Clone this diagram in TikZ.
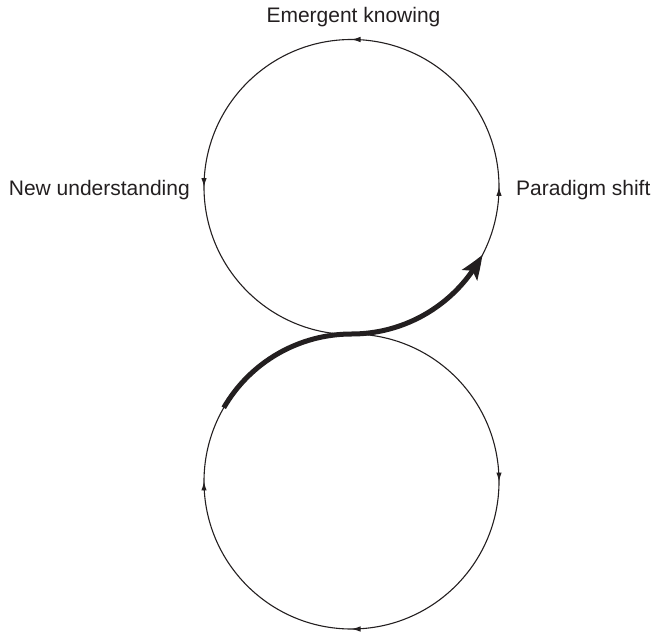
\documentclass[tikz,border=0pt]{standalone}
\usepackage{fontspec}
\setmainfont{Liberation Sans}
\usetikzlibrary{arrows.meta,bending,decorations.markings}
\definecolor{ink}{HTML}{231F20}
\tikzset{
  ring/.style={draw=ink, line width=1.1pt},
  smalltip/.tip={Latex[length=9pt,width=5.5pt]},
  bigarrow/.style={draw=ink, line width=5pt,
    -{Stealth[length=24pt,width=18pt,inset=5pt,bend]}},
  label/.style={inner sep=0pt, text=ink, font=\fontsize{21}{24}\selectfont},
  marks/.style={postaction=decorate, decoration={markings,
    mark=at position 0.25 with {\arrow[ink]{smalltip}},
    mark=at position 0.5 with {\arrow[ink]{smalltip}},
    mark=at position 0.75 with {\arrow[ink]{smalltip}}}}
}
\begin{document}
\begin{tikzpicture}[x=1pt,y=1pt]
\useasboundingbox (0,0) rectangle (653,633);
\def\R{147.5}
% centres of the two loops
\coordinate (T) at (351.5,446);
\coordinate (B) at (351.5,151.5);
% upper loop, counter-clockwise
\draw[ring, marks] (T) ++(-90:\R) arc[start angle=-90, delta angle=360, radius=\R];
% lower loop, clockwise
\draw[ring, marks] (B) ++(90:\R) arc[start angle=90, delta angle=-360, radius=\R];
% the crossing path from the lower loop into the upper one
\draw[bigarrow] (B) ++(150:\R) arc[start angle=150, end angle=90, radius=\R]
  arc[start angle=270, end angle=332.5, radius=\R];
% labels
\node[label, anchor=base] (ek) at (353.5,610.5) {Emergent knowing};
\node[label, anchor=base east] (nu) at (190,437.5) {New understanding};
\node[label, anchor=base west] (ps) at (516,437.5) {Paradigm shift};
\end{tikzpicture}
\end{document}
